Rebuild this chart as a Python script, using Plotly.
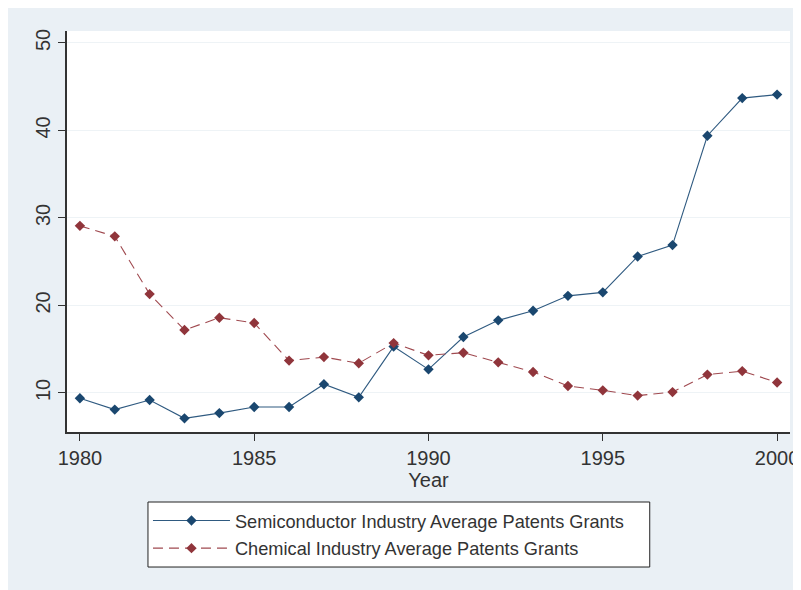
import plotly.graph_objects as go

years = list(range(1980, 2001))
semiconductor = [9.4, 8.1, 9.2, 7.1, 7.7, 8.4, 8.4, 11.0, 9.5, 15.3, 12.7,
                 16.4, 18.3, 19.4, 21.1, 21.5, 25.6, 26.9, 39.4, 43.7, 44.1]
chemical = [29.1, 27.9, 21.3, 17.2, 18.6, 18.0, 13.7, 14.1, 13.4, 15.7, 14.3,
            14.6, 13.5, 12.4, 10.8, 10.3, 9.7, 10.1, 12.1, 12.5, 11.2]
x_ticks = [1980, 1985, 1990, 1995, 2000]
y_ticks = [10, 20, 30, 40, 50]

NAVY = "#1a476f"
RED = "#90353b"
BG = "#eaf0f5"
FONT = "Liberation Sans, Arial, sans-serif"

fig = go.Figure()
fig.add_trace(go.Scatter(
    x=years, y=semiconductor, mode="lines+markers",
    name="Semiconductor Industry Average Patents Grants",
    legendgroup="a",
    line=dict(color="#2f5a80", width=1.1),
    marker=dict(symbol="diamond", size=8, color=NAVY),
))
fig.add_trace(go.Scatter(
    x=years, y=chemical, mode="lines+markers",
    name="Chemical Industry Average Patents Grants",
    legendgroup="b",
    line=dict(color="#a04a50", width=1.1, dash="10px,6px"),
    marker=dict(symbol="diamond", size=8, color=RED),
))

fig.update_layout(
    width=801, height=590,
    margin=dict(l=59, r=10, t=23, b=166),
    paper_bgcolor=BG,
    plot_bgcolor="white",
    font=dict(family=FONT, size=20, color="#333333"),
    showlegend=True,
    legend=dict(
        x=0.112, y=-0.175, xanchor="left", yanchor="top",
        bgcolor="rgba(0,0,0,0)", borderwidth=0,
        font=dict(size=18.2, color="#333333"),
        itemwidth=77, tracegroupgap=1,
    ),
    shapes=[
        dict(type="rect", xref="paper", yref="paper",
             x0=0.112, x1=0.806, y0=-0.3367, y1=-0.1746,
             fillcolor="white", line=dict(color="#222222", width=1),
             layer="below"),
    ],
)

fig.update_xaxes(
    range=[1979.63, 2000.37], tickvals=x_ticks,
    ticks="outside", ticklen=7, tickcolor="#333333",
    showline=True, linecolor="#333333", linewidth=1.5,
    showgrid=False, zeroline=False,
    title=dict(text="Year", standoff=2, font=dict(size=20)),
)
fig.update_yaxes(
    range=[5.54, 51.37], tickvals=y_ticks, tickangle=-90,
    ticks="outside", ticklen=7, tickcolor="#333333",
    showline=True, linecolor="#333333", linewidth=1.5,
    showgrid=True, gridcolor="#eef3f6", gridwidth=1, zeroline=False,
)

fig.write_html("out.html")
